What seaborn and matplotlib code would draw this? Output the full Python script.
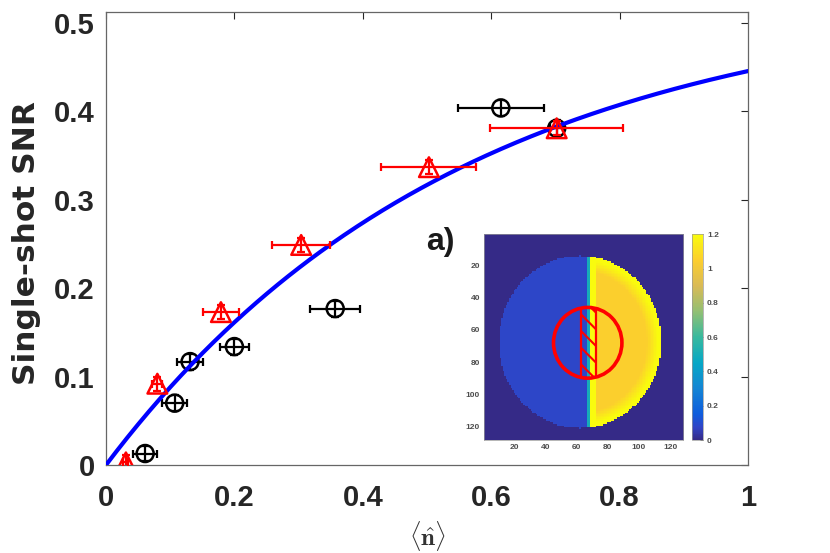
import numpy as np
import pandas as pd
import matplotlib
matplotlib.use("Agg")
import matplotlib.pyplot as plt
import seaborn as sns
from matplotlib.colors import LinearSegmentedColormap
from matplotlib.patches import Circle, Rectangle

# ---------------- data ----------------
circ_n = [0.061, 0.107, 0.131, 0.200, 0.357, 0.615, 0.702]
circ_snr = [0.013, 0.070, 0.117, 0.134, 0.177, 0.404, 0.381]
circ_xerr = [0.019, 0.019, 0.020, 0.022, 0.039, 0.067, 0.010]
circ_yerr = [0.009, 0.009, 0.009, 0.009, 0.009, 0.009, 0.009]

tri_n = [0.031, 0.080, 0.179, 0.304, 0.503, 0.702]
tri_snr = [0.003, 0.092, 0.173, 0.249, 0.337, 0.381]
tri_xerr = [0.004, 0.008, 0.028, 0.045, 0.074, 0.104]
tri_yerr = [0.008, 0.008, 0.008, 0.008, 0.008, 0.008]

fit_amp = 0.534
fit_rate = 1.8

x_ticks = [0, 0.2, 0.4, 0.6, 0.8, 1.0]
x_labels = ["0", "0.2", "0.4", "0.6", "0.8", "1"]
y_ticks = [0, 0.1, 0.2, 0.3, 0.4, 0.5]
y_labels = ["0", "0.1", "0.2", "0.3", "0.4", "0.5"]

# inset image description
img_size = 128
disk_center = (62.0, 67.5)   # (col, row)
disk_radius = (52.0, 53.5)
split_col = 68.5
left_level = 0.08
right_level = 1.05
rim_level = 1.2
edge_level = 0.5
ring_center = (67.0, 68.0)
ring_radius = 22.0
band_cols = (62.5, 72.5)
cbar_ticks = [0, 0.2, 0.4, 0.6, 0.8, 1.0, 1.2]
cbar_labels = ["0", "0.2", "0.4", "0.6", "0.8", "1", "1.2"]
img_ticks = [20, 40, 60, 80, 100, 120]

# ---------------- style ----------------
sns.set_theme(style="white")
plt.rcParams["font.family"] = ["Liberation Sans", "DejaVu Sans"]
plt.rcParams["mathtext.fontset"] = "cm"
plt.rcParams["hatch.linewidth"] = 1.5

fig = plt.figure(figsize=(8.3, 5.53), dpi=100)
ax = fig.add_axes([0.1277, 0.1591, 0.7735, 0.8183])

n_grid = np.linspace(0, 1, 300)
fit_df = pd.DataFrame({"n": n_grid, "snr": fit_amp * (1 - np.exp(-fit_rate * n_grid))})

circ_df = pd.DataFrame({"n": circ_n, "snr": circ_snr})
tri_df = pd.DataFrame({"n": tri_n, "snr": tri_snr})

ax.errorbar(circ_n, circ_snr, xerr=circ_xerr, yerr=circ_yerr, fmt="none",
            ecolor="black", elinewidth=1.6, capsize=3.2, capthick=1.6, zorder=2)
sns.scatterplot(data=circ_df, x="n", y="snr", ax=ax, marker="o", s=150,
                facecolor="none", edgecolor="black", linewidth=1.8, zorder=2)
sns.lineplot(data=fit_df, x="n", y="snr", ax=ax, color="#0000ff", linewidth=3.0, zorder=3)
ax.errorbar(tri_n, tri_snr, xerr=tri_xerr, yerr=tri_yerr, fmt="none",
            ecolor="#ff0000", elinewidth=1.6, capsize=3.2, capthick=1.6, zorder=4)
sns.scatterplot(data=tri_df, x="n", y="snr", ax=ax, marker="^", s=200,
                facecolor="none", edgecolor="#ff0000", linewidth=1.8, zorder=4)

ax.set_xlim(0, 1)
ax.set_ylim(0, 0.512)
ax.set_xticks(x_ticks)
ax.set_xticklabels(x_labels)
ax.set_yticks(y_ticks)
ax.set_yticklabels(y_labels)
ax.tick_params(direction="in", length=5, width=0.8, color="#262626",
               labelsize=21, labelcolor="#262626", top=True, right=True)
ax.tick_params(axis="x", pad=14)
ax.tick_params(axis="y", pad=8)
for lab in ax.get_xticklabels() + ax.get_yticklabels():
    lab.set_fontweight("bold")
for sp in ax.spines.values():
    sp.set_color("#666666")
    sp.set_linewidth(0.9)
ax.set_ylabel("Single-shot SNR", fontsize=22.5, fontweight="bold", color="#262626",
              family=["DejaVu Sans"])
ax.yaxis.label.set_va("center")
ax.yaxis.set_label_coords((27 - 106) / 642, (465 - 243.5) / 452.5)
ax.set_xlabel(r"$\langle\hat{\mathbf{n}}\rangle$", fontsize=18, color="#333333")
ax.xaxis.label.set_va("center")
ax.xaxis.set_label_coords((428 - 106) / 642, (465 - 536) / 452.5)

# ---------------- inset ----------------
parula = LinearSegmentedColormap.from_list(
    "parula", [(0.000, "#352A87"), (0.060, "#3144C6"), (0.125, "#0F5CDD"),
               (0.250, "#1485D4"), (0.375, "#06A7C6"), (0.500, "#38B99E"),
               (0.625, "#92BF73"), (0.750, "#D9BA56"), (0.875, "#FCCE2E"),
               (1.000, "#F9FB0E")])

cols, rows = np.meshgrid(np.arange(1, img_size + 1), np.arange(1, img_size + 1))
dx = (cols - disk_center[0]) / disk_radius[0]
dy = (rows - disk_center[1]) / disk_radius[1]
rr = np.sqrt(dx ** 2 + dy ** 2)
inside = rr <= 1.0
img = np.zeros((img_size, img_size))
right = cols >= split_col
rim = np.clip((rr - 0.82) / 0.14, 0, 1)
img[inside & ~right] = left_level
img[inside & right] = (right_level + (rim_level - right_level) * rim)[inside & right]
img[inside & (cols >= split_col) & (cols < split_col + 4)] = rim_level
img[inside & (cols >= split_col - 2) & (cols < split_col)] = edge_level

iax = fig.add_axes([0.5835, 0.2043, 0.2398, 0.3720])
iax.imshow(img, cmap=parula, vmin=0, vmax=1.2, aspect="auto",
           extent=(0.5, img_size + 0.5, img_size + 0.5, 0.5), interpolation="nearest")
clipc = Circle(ring_center, ring_radius, transform=iax.transData, fill=False)
band = Rectangle((band_cols[0], ring_center[1] - ring_radius - 2), band_cols[1] - band_cols[0],
                 2 * ring_radius + 4, fill=False, edgecolor="#ff0000", hatch="\\\\",
                 linewidth=1.6)
iax.add_patch(band)
band.set_clip_path(clipc)
iax.add_patch(Circle(ring_center, ring_radius, fill=False, edgecolor="#ff0000", linewidth=2.6))
iax.set_xticks(img_ticks)
iax.set_yticks(img_ticks)
iax.tick_params(direction="in", length=2, width=0.5, labelsize=6, labelcolor="#4d4d4d",
                color="#4d4d4d", pad=3)
for lab in iax.get_xticklabels() + iax.get_yticklabels():
    lab.set_fontweight("bold")
for sp in iax.spines.values():
    sp.set_color("#999999")
    sp.set_linewidth(0.5)

cax = fig.add_axes([0.8334, 0.2043, 0.0133, 0.3720])
cb = fig.colorbar(iax.images[0], cax=cax, ticks=cbar_ticks)
cb.ax.set_yticklabels(cbar_labels)
cb.ax.tick_params(direction="in", length=2, width=0.5, labelsize=6, labelcolor="#4d4d4d", pad=3)
for lab in cb.ax.get_yticklabels():
    lab.set_fontweight("bold")
cb.outline.set_edgecolor("#999999")
cb.outline.set_linewidth(0.5)

fig.text(440 / 830, 1 - 242 / 553, "a)", fontsize=23, fontweight="bold", color="#1a1a1a",
         ha="center", va="center")

fig.savefig("out.png", dpi=100)
